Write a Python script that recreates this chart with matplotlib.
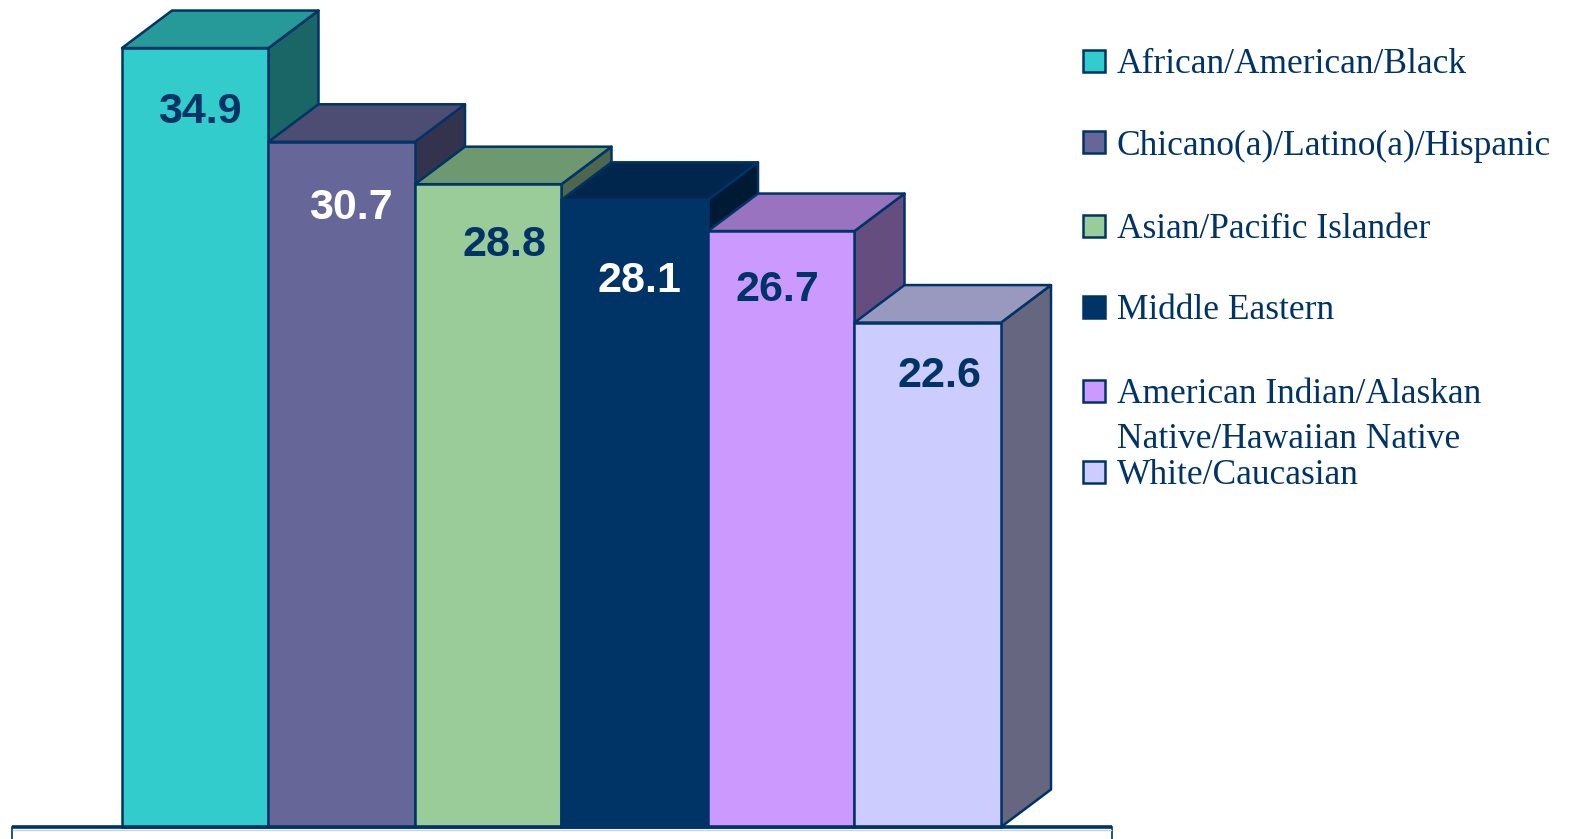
import matplotlib
matplotlib.use("Agg")
import matplotlib.pyplot as plt
from matplotlib.patches import Polygon, Rectangle

categories = ["African/American/Black", "Chicano(a)/Latino(a)/Hispanic",
              "Asian/Pacific Islander", "Middle Eastern",
              "American Indian/Alaskan\nNative/Hawaiian Native", "White/Caucasian"]
values = [34.9, 30.7, 28.8, 28.1, 26.7, 22.6]
value_labels = ["34.9", "30.7", "28.8", "28.1", "26.7", "22.6"]

# styling
front_colors = ["#33CCCC", "#666699", "#99CC99", "#003366", "#CC99FF", "#CCCCFF"]
top_colors   = ["#269999", "#4D4D73", "#6E9970", "#00264D", "#9973C0", "#9999BF"]
side_colors  = ["#1A6666", "#33334D", "#4D664D", "#001A33", "#664D80", "#666680"]
label_colors = ["#003366", "white", "#003366", "white", "#003366", "#003366"]
label_dx_px = [5, 9, 16, 5, -3.5, 11.5]      # label shift from bar centre (px)
label_dy_px = [75, 77, 72, 92, 70, 64]       # baseline below bar top (px)
legend_baseline_px = [73, 155, 238, 319, 403, 484]
legend_marker_px = [60, 141, 225, 306, 390, 471]
NAVY = "#003366"

W, H = 1571, 839
DPI = 100
fig = plt.figure(figsize=(W / DPI, H / DPI), dpi=DPI)
ax = fig.add_axes([0, 0, 1, 1])
ax.set_axis_off()

pxx = 146.5   # px per bar unit
pxy = 22.32   # px per value unit
x0_px = 122
base_px = 12
ax.set_xlim(-0.5 - x0_px / pxx, -0.5 + (W - x0_px) / pxx)
ax.set_ylim(-base_px / pxy, (H - base_px) / pxy)

dx = 50 / pxx
dy = 37.5 / pxy
bw = 1.0
lw = 1.8

# floor box
xl = -0.5 - (x0_px - 12) / pxx
xr = -0.5 + (1112 - x0_px) / pxx
ax.add_patch(Rectangle((xl, -3), xr - xl, 3, facecolor="white",
                       edgecolor=NAVY, lw=1.2, zorder=1))
ax.plot([xl, xr], [0, 0], color=NAVY, lw=2.6, zorder=50, solid_capstyle="butt")
ax.plot([xl + 0.01, xr - 0.01], [-3.2 / pxy, -3.2 / pxy], color="#C8D4E6", lw=1.0, zorder=50)

for i, v in enumerate(values):
    l, r = i - bw / 2, i + bw / 2
    z = 10 + i * 3
    side = Polygon([(r, 0), (r + dx, dy), (r + dx, v + dy), (r, v)], closed=True,
                   facecolor=side_colors[i], edgecolor=NAVY, lw=lw, zorder=z, joinstyle="round")
    top = Polygon([(l, v), (l + dx, v + dy), (r + dx, v + dy), (r, v)], closed=True,
                  facecolor=top_colors[i], edgecolor=NAVY, lw=lw, zorder=z + 1, joinstyle="round")
    ax.add_patch(side)
    ax.add_patch(top)
    ax.bar(i, v, width=bw, color=front_colors[i], edgecolor=NAVY, lw=lw,
           zorder=z + 2)
    ax.text(i + label_dx_px[i] / pxx, v - label_dy_px[i] / pxy, value_labels[i],
            ha="center", va="baseline",
            fontsize=31, fontweight="bold", family="Liberation Sans",
            color=label_colors[i], zorder=z + 2.5)

# legend (manual)
for i, lab in enumerate(categories):
    ym = H - legend_marker_px[i]
    fig.patches.append(Rectangle((1083 / W, (ym - 11.5) / H), 22 / W, 22 / H,
                                 transform=fig.transFigure, facecolor=front_colors[i],
                                 edgecolor=NAVY, lw=1.8))
    yb = H - legend_baseline_px[i]
    for k, line in enumerate(lab.split("\n")):
        fig.text(1117 / W, (yb - 45 * k) / H, line, ha="left", va="baseline",
                 fontsize=25.5, family="Liberation Serif", color=NAVY)

fig.savefig("out.png", dpi=DPI)
